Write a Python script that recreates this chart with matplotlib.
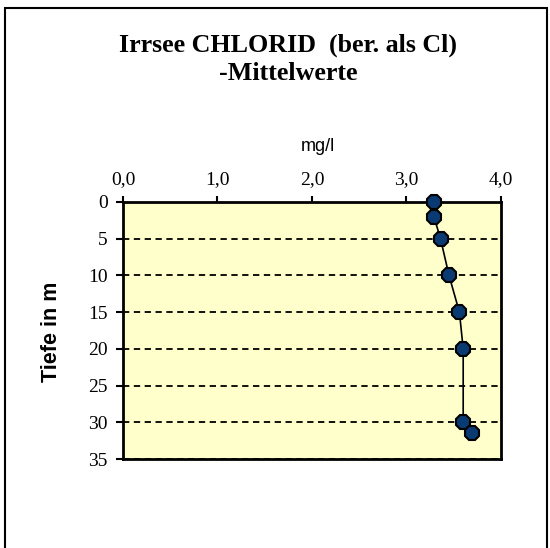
import matplotlib
matplotlib.use("Agg")
import matplotlib.pyplot as plt
from matplotlib.patches import Rectangle

# mean chloride values per depth
depth = [0, 2, 5, 10, 15, 20, 30, 31.5]
chlorid = [3.29, 3.29, 3.36, 3.45, 3.56, 3.60, 3.60, 3.69]
x_ticks = [0, 1, 2, 3, 4]
x_labels = ["0,0", "1,0", "2,0", "3,0", "4,0"]
y_ticks = [0, 5, 10, 15, 20, 25, 30, 35]

fig = plt.figure(figsize=(5.5, 5.48), dpi=100)
ax = fig.add_axes([0.2236, 0.1624, 0.6873, 0.469])
ax.set_facecolor("#FFFFCC")

# dashed grid lines
for y in y_ticks[1:]:
    ax.axhline(y, color="black", lw=1.3, ls=(0, (3.5, 2.5)), zorder=1)

ax.plot(chlorid, depth, color="black", lw=1.2, marker="8", markersize=11,
        markerfacecolor="#0A3A72", markeredgecolor="black", markeredgewidth=1.5,
        zorder=3, clip_on=False)

ax.set_xlim(0, 4)
ax.set_ylim(35, 0)
ax.xaxis.tick_top()
ax.xaxis.set_label_position("top")
ax.set_xticks(x_ticks)
ax.set_xticklabels(x_labels, fontfamily="Liberation Serif", fontsize=14)
ax.set_yticks(y_ticks)
ax.set_yticklabels([str(v) for v in y_ticks], fontfamily="Liberation Serif",
                   fontsize=14)
ax.tick_params(axis="x", direction="out", length=4, width=1.5, pad=6)
ax.tick_params(axis="y", direction="out", length=5, width=1.5, pad=6)

for side in ["left", "top", "right"]:
    ax.spines[side].set_linewidth(2)
ax.spines["bottom"].set_linewidth(2)
ax.spines["bottom"].set_linestyle((0, (3.5, 1)))

ax.set_xlabel("mg/l", fontfamily="Liberation Sans", fontsize=13)
ax.xaxis.set_label_coords(0.516, 1.2)
ax.set_ylabel("Tiefe in m", fontfamily="Liberation Sans", fontsize=15.5,
              fontweight="bold")
ax.yaxis.set_label_coords(-0.161, 0.494)

title_font = dict(ha="center", va="center", fontfamily="Liberation Serif",
                  fontweight="bold", fontsize=18.7)
fig.text(288 / 550, 1 - 45 / 548, "Irrsee CHLORID  (ber. als Cl)", **title_font)
fig.text(288 / 550, 1 - 73 / 548, "-Mittelwerte", **title_font)

# outer chart frame
fig.patches.append(Rectangle((5 / 550, -0.05), 542 / 550, 1.05 - 8 / 548,
                             transform=fig.transFigure, fill=False,
                             edgecolor="black", lw=1.5))

plt.savefig("out.png", dpi=100)
